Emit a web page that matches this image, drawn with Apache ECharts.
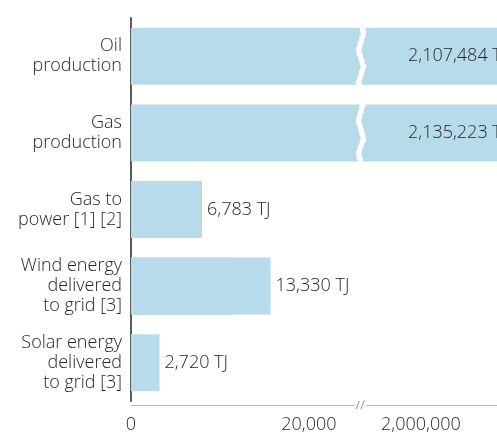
<!DOCTYPE html>
<html>
<head>
<meta charset="utf-8">
<script src="https://cdn.jsdelivr.net/npm/echarts@6.0.0/dist/echarts.min.js"></script>
<style>
  html, body { margin: 0; padding: 0; background: #fff; }
  #main { width: 497px; height: 432px; }
</style>
</head>
<body>
<div id="main"></div>
<script>
    // data
    var categories = ['Oil\nproduction', 'Gas\nproduction', 'Gas to\npower [1] [2]', 'Wind energy\ndelivered\nto grid [3]', 'Solar energy\ndelivered\nto grid [3]'];
    var values = [2107484, 2135223, 6783, 13330, 2720];
    var underlay = [null, null, 2500, 9570, null];
    var tickValues = [0, 20000, 2000000];
    var breakStart = 21700;
    var breakEnd = 1994500;
    var axisMax = 2013000;

    var font = 'Open Sans';
    var textColor = '#262626';
    var fontSize = 18;
    var fontWeight = 350;

    var myChart = echarts.init(document.getElementById('main'));

    function fmt(v) {
        return v.toLocaleString('en-US');
    }

    var barData = values.map(function (v) {
        if (v > breakEnd) {
            return {
                value: v,
                label: { position: [277, '50%'], align: 'left', verticalAlign: 'middle' }
            };
        }
        return v;
    });

    myChart.setOption({
        animation: false,
        grid: { left: 131, width: 426, top: 18, bottom: 31, outerBoundsMode: 'none', containLabel: false },
        xAxis: {
            type: 'value',
            min: 0,
            max: axisMax,
            offset: 4,
            breaks: [{ start: breakStart, end: breakEnd, gap: '1.2%' }],
            breakArea: {
                show: true,
                itemStyle: { color: '#fff', borderColor: '#fff', borderWidth: 1, opacity: 1 },
                zigzagAmplitude: 2.5,
                zigzagMinSpan: 14,
                zigzagMaxSpan: 20
            },
            axisLine: { show: true, onZero: false, lineStyle: { color: '#bdbdbd', width: 1 } },
            axisTick: { show: false },
            splitLine: { show: false },
            axisLabel: {
                customValues: tickValues,
                margin: 11,
                fontFamily: font,
                fontWeight: fontWeight,
                fontSize: fontSize,
                color: textColor,
                formatter: function (v) {
                    if (v === 20000) return '{l|' + fmt(v) + '}';
                    return fmt(v);
                },
                rich: {
                    l: { fontFamily: font, fontWeight: fontWeight, fontSize: fontSize, color: textColor, padding: [0, 63, 0, 0] }
                }
            }
        },
        yAxis: {
            type: 'category',
            inverse: true,
            data: categories,
            axisLine: { show: true, lineStyle: { color: '#5a5a5a', width: 2 } },
            axisTick: { show: false },
            axisLabel: {
                margin: 9,
                fontFamily: font,
                fontWeight: fontWeight,
                fontSize: fontSize,
                lineHeight: 20,
                color: textColor
            }
        },
        series: [
            {
                type: 'bar',
                data: underlay,
                barWidth: 57,
                barGap: '-100%',
                silent: true,
                itemStyle: { color: '#93dbb9', borderColor: '#93dbb9', borderWidth: 1 },
                z: 1
            },
            {
                type: 'bar',
                data: barData,
                barWidth: 57,
                barGap: '-100%',
                itemStyle: { color: '#b7dbea' },
                z: 2,
                label: {
                    show: true,
                    position: 'right',
                    distance: 5,
                    fontFamily: font,
                    fontWeight: fontWeight,
                    fontSize: fontSize,
                    color: textColor,
                    formatter: function (p) { return fmt(p.value) + ' TJ'; }
                }
            }
        ]
    });

    // "//" break mark on the value axis
    var bx = myChart.convertToPixel({ xAxisIndex: 0 }, breakStart);
    var axisY = 432 - 31 + 4;
    myChart.setOption({
        graphic: [{
            type: 'text',
            x: bx + 2,
            y: axisY,
            style: {
                text: '//',
                fontFamily: font,
                fontSize: 13,
                fill: '#9a9a9a',
                backgroundColor: '#fff',
                align: 'center',
                verticalAlign: 'middle',
                padding: [0, 1]
            },
            z: 10
        }]
    });
</script>
</body>
</html>
